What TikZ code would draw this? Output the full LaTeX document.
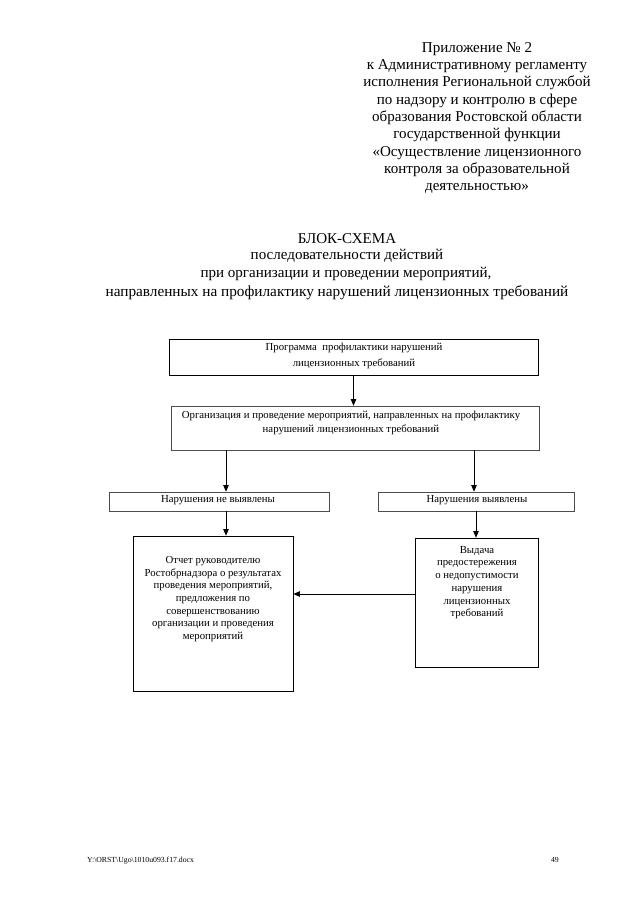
\documentclass[tikz,border=0pt]{standalone}
\usepackage{fontspec}
\setmainfont{Liberation Serif}
\usetikzlibrary{arrows.meta}
\begin{document}
\begin{tikzpicture}[x=0.93pt,y=-0.93pt,
  box/.style={draw=black, line width=0.6pt, inner sep=0pt, font=\fontsize{10}{11.5}\selectfont, align=center},
  gbox/.style={box, draw=black!70},
  txt/.style={font=\fontsize{10}{11.8}\selectfont, align=center, inner sep=0pt},
  head/.style={font=\fontsize{14}{16.1}\selectfont, align=center, inner sep=0pt},
  arr/.style={-{Triangle[length=6pt,width=5pt]}, line width=0.7pt}]
\useasboundingbox[fill=white] (0,0) rectangle (640,905);

% header
\node[head, anchor=north] (hdr) at (477,42) {Приложение № 2\\к Административному регламенту\\исполнения Региональной службой\\по надзору и контролю в сфере\\образования Ростовской области\\государственной функции\\«Осуществление лицензионного\\контроля за образовательной\\деятельностью»};

% title
\node[head, anchor=base] (t1) at (347,243) {БЛОК-СХЕМА};
\node[head, anchor=base] (t2) at (347,259.5) {последовательности действий};
\node[head, anchor=base] (t3) at (346,277.5) {при организации и проведении мероприятий,};
\node[head, anchor=base, font=\fontsize{14.2}{16.1}\selectfont] (t4) at (337,296) {направленных на профилактику нарушений лицензионных требований};

% boxes
\node[box, minimum width=369*0.93pt, minimum height=36*0.93pt] (b1) at (353.5,357) {};
\node[txt, anchor=center] (b1t) at (354,356) {Программа\ \ профилактики нарушений\\[3.5pt]лицензионных требований};
\node[gbox, minimum width=368*0.93pt, minimum height=44*0.93pt] (b2) at (355,428) {};
\node[txt, anchor=north] (b2t) at (351,411) {Организация и проведение мероприятий, направленных на профилактику\\[1.5pt]нарушений лицензионных требований};
\node[gbox, minimum width=220*0.93pt, minimum height=19*0.93pt] (b3) at (219,501.5) {};
\node[txt] (b3t) at (218,500) {Нарушения не выявлены};
\node[gbox, minimum width=196*0.93pt, minimum height=19*0.93pt] (b4) at (476,501.5) {};
\node[txt] (b4t) at (477,500) {Нарушения выявлены};
\node[box, minimum width=160*0.93pt, minimum height=155*0.93pt] (b5) at (213,613.5) {};
\node[txt, anchor=north] (b5t) at (213,556) {Отчет руководителю\\Ростобрнадзора о результатах\\проведения мероприятий,\\предложения по\\совершенствованию\\организации и проведения\\мероприятий};
\node[box, minimum width=123*0.93pt, minimum height=129*0.93pt] (b6) at (476.5,602.5) {};
\node[txt, anchor=north] (b6t) at (477,546) {Выдача\\предостережения\\о недопустимости\\нарушения\\лицензионных\\требований};

% helper coordinates
\coordinate (cL) at (226,0);
\coordinate (cR) at (474,0);
\coordinate (cH) at (0,594);

% connectors
\draw[arr] (b1.south) -- (b1.south |- b2.north);
\draw[arr] (cL |- b2.south) -- (cL |- b3.north);
\draw[arr] (cR |- b2.south) -- (cR |- b4.north);
\draw[arr] (cL |- b3.south) -- (cL |- b5.north);
\draw[arr] (b4.south) -- (b4.south |- b6.north);
\draw[arr] (cH -| b6.west) -- (cH -| b5.east);

% footer
\node[font=\fontsize{7.2}{9}\selectfont, anchor=base west, inner sep=0pt] (ft) at (87,862) {Y:\textbackslash ORST\textbackslash Ugo\textbackslash 1010u093.f17.docx};
\node[font=\fontsize{7.2}{9}\selectfont, anchor=base east, inner sep=0pt] (pg) at (559,862) {49};
\end{tikzpicture}
\end{document}
